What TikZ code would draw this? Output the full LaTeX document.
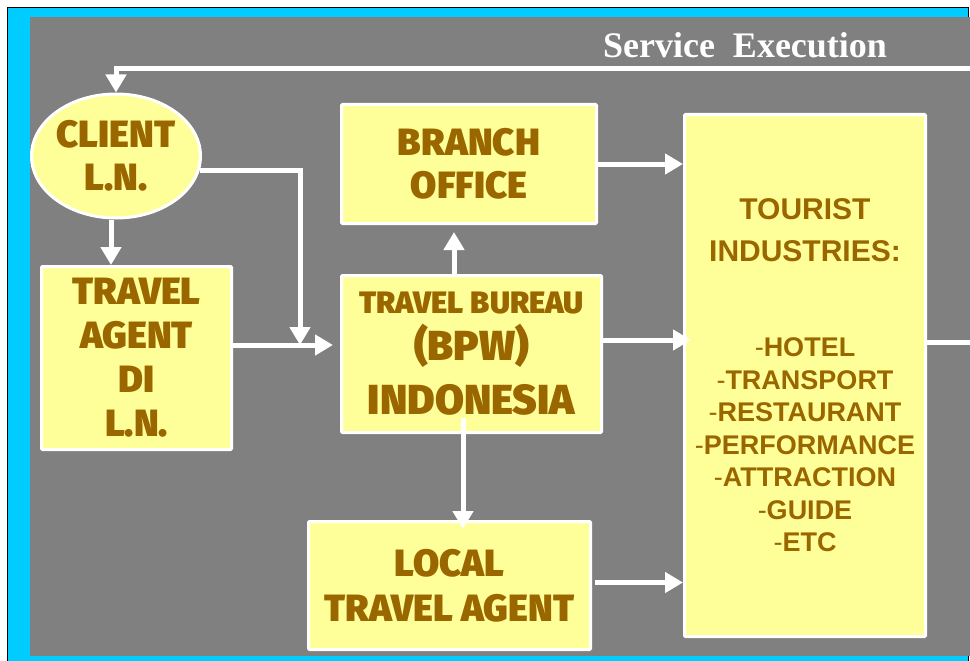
\documentclass[tikz,border=0pt]{standalone}
\usepackage{fontspec}
\setmainfont{Liberation Sans}
\newfontfamily\headfont{Liberation Serif}
\newfontfamily\boxfont{Fira Sans Black}
\usepackage{tikz}
\usetikzlibrary{arrows.meta,shapes.geometric,calc}

\definecolor{frame}{HTML}{00CCFF}
\definecolor{board}{HTML}{808080}
\definecolor{paper}{HTML}{FFFF99}
\definecolor{ink}{HTML}{996600}

\newcommand{\headsize}{\fontsize{30}{32}\selectfont}
\newcommand{\bigsize}{\fontsize{42}{50}\selectfont}
\newcommand{\listdash}{{\mdseries-}}

\begin{document}
\begin{tikzpicture}[x=1pt,y=-1pt,
    box/.style={draw=white,line width=3pt,fill=paper,rounded corners=1pt,
      text=ink,align=center,inner sep=0pt},
    link/.style={draw=white,line width=5pt},
    flow/.style={link,-{Triangle[length=18pt,width=20pt]}}]
    \useasboundingbox (0,0) rectangle (970,661);

    % frame and board
    \draw[fill=frame,draw=black,line width=1pt] (7.5,7.5) rectangle (968.5,690);
    \fill[board] (30,17) rectangle (990,656);

    \node (title) [text=white,font=\headfont\bfseries\fontsize{36}{36}\selectfont] at (745,45) {Service\ \ Execution};

    \coordinate (back) at (990,69);
    \coordinate (merge) at (300,345);

    \node (client) [ellipse,draw=white,line width=3pt,fill=paper,text=ink,align=center,
      minimum width=169,minimum height=124,inner sep=0pt,
      font=\boxfont\fontsize{38}{43}\selectfont] at (116,156) {CLIENT\\L.N.};
    \node (agent) [box,minimum width=190,minimum height=183,
      font=\boxfont\fontsize{38}{44}\selectfont] at (136.5,358) {TRAVEL\\AGENT\\DI\\L.N.};
    \node (branch) [box,minimum width=255,minimum height=119,
      font=\boxfont\fontsize{38}{43}\selectfont] at (469,164) {BRANCH\\OFFICE};
    \node (bureau) [box,minimum width=260,minimum height=157,font=\boxfont\bigsize] at (471.5,354)
      {\fontsize{31}{50}\selectfont TRAVEL BUREAU\\[-3pt]
       (BPW)\\[4pt]INDONESIA};
    \node (tourist) [box,minimum width=241,minimum height=522,
      font=\bfseries\fontsize{27}{32.5}\selectfont] at (805,375.5)
      {\headsize TOURIST\\[9.5pt]\headsize INDUSTRIES:\\[62.5pt]
       \listdash HOTEL\\\listdash TRANSPORT\\\listdash RESTAURANT\\\listdash PERFORMANCE\\
       \listdash ATTRACTION\\\listdash GUIDE\\\listdash ETC};
    \node (local) [box,minimum width=282,minimum height=128,
      font=\boxfont\fontsize{38}{45}\selectfont] at (449.5,585.5) {LOCAL\\TRAVEL AGENT};

    % service execution goes back to the client
    \draw[link] (tourist.east |- 0,342) -| (back);
    \draw[flow] (back) -| (client.north);

    \draw[flow] ([xshift=-5pt]client.south) -- ([xshift=-5pt]client.south |- agent.north);
    \draw[flow] (client.-10) -| (merge);
    \draw[flow,shorten >=7pt] (agent.east |- merge) -- (bureau.west |- merge);

    \draw[flow,shorten >=7pt] ([xshift=-17.5pt]bureau.north) -- ([xshift=-17.5pt]bureau.north |- branch.south);
    \draw[flow,shorten >=-9pt] ([xshift=-8.5pt,yshift=16pt]bureau.south) -- ([xshift=-8.5pt]bureau.south |- local.north);

    \draw[flow] (branch.east) -- (branch.east -| tourist.west);
    \draw[flow,shorten >=-8pt] ([yshift=14pt]bureau.east) -- ([yshift=14pt]bureau.east -| tourist.west);
    \draw[flow,shorten <=3pt] ([yshift=3pt]local.east) -- ([yshift=3pt]local.east -| tourist.west);

  \end{tikzpicture}
\end{document}
